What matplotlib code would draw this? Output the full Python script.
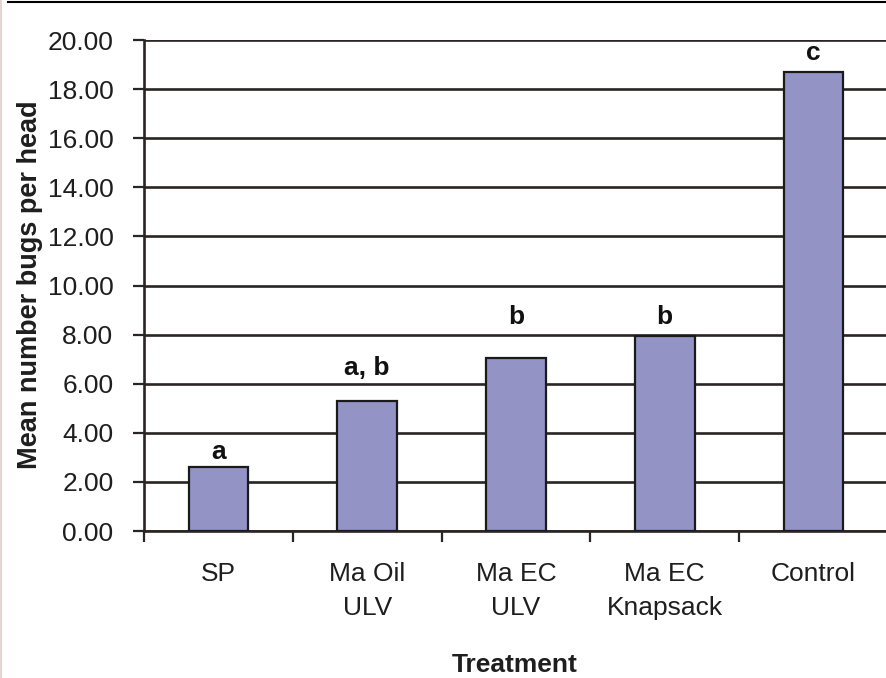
import numpy as np
import matplotlib
matplotlib.use("Agg")
import matplotlib.pyplot as plt
from matplotlib.lines import Line2D

# Data
treatments = ["SP", "Ma Oil\nULV", "Ma EC\nULV", "Ma EC\nKnapsack", "Control"]
mean_bugs = [2.6, 5.3, 7.05, 7.95, 18.7]
letters = ["a", "a, b", "b", "b", "c"]
letter_y = [3.22, 6.62, 8.72, 8.72, 19.48]
yticks = np.arange(0, 20.01, 2.0)

plt.rcParams['font.family'] = ['Liberation Sans', 'DejaVu Sans']
FS = 19

fig = plt.figure(figsize=(8.86, 6.78), dpi=100)
ax = fig.add_axes([0.1625, 0.2168, 0.8397, 0.7242])

x = np.arange(len(treatments))
ax.bar(x, mean_bugs, width=0.40, color="#9393c6", edgecolor="#1a1a1a",
       linewidth=1.6, zorder=3)

# significance letters
for xi, lab, ly in zip(x, letters, letter_y):
    ax.text(xi, ly, lab, ha="center", va="center", fontsize=FS,
            fontweight="bold", color="#111111")

ax.set_xlim(-0.5, len(treatments) - 0.5)
ax.set_ylim(0, 20)
ax.set_yticks(yticks)
ax.set_yticklabels([f"{v:.2f}" for v in yticks], fontsize=FS, color="#1e1e1e")
ax.yaxis.grid(True, color="#2a2424", linewidth=1.9, zorder=0)
ax.set_axisbelow(True)

# category labels between tick marks at boundaries
ax.set_xticks(x)
ax.set_xticklabels(treatments, fontsize=FS, color="#1e1e1e", linespacing=1.55)
ax.tick_params(axis="x", length=0, pad=22)
ax.set_xticks(np.arange(len(treatments) + 1) - 0.5, minor=True)
ax.tick_params(axis="x", which="minor", length=8, width=1.6, color="#2a2424",
               direction="out")
ax.tick_params(axis="y", length=8, width=1.6, color="#2a2424", pad=14)

for side in ["top", "right"]:
    ax.spines[side].set_visible(False)
for side in ["left", "bottom"]:
    ax.spines[side].set_color("#2a2424")
    ax.spines[side].set_linewidth(1.9)

fig.text(30 / 886, 1 - 285 / 678, "Mean number bugs per head", rotation=90,
         ha="center", va="center", fontsize=19.5, fontweight="bold", color="#1e1e1e")
fig.text(515 / 886, 1 - 665 / 678, "Treatment", ha="center", va="center",
         fontsize=FS, fontweight="bold", color="#1e1e1e")

# page border remnants from the source crop
fig.add_artist(Line2D([8 / 886, 1], [1 - 2 / 678, 1 - 2 / 678], color="black",
                      linewidth=1.5, transform=fig.transFigure))
fig.add_artist(Line2D([1 / 886, 1 / 886], [0, 1], color="#e6d4d4",
                      linewidth=1.5, transform=fig.transFigure))

fig.savefig("out.png", dpi=100)
